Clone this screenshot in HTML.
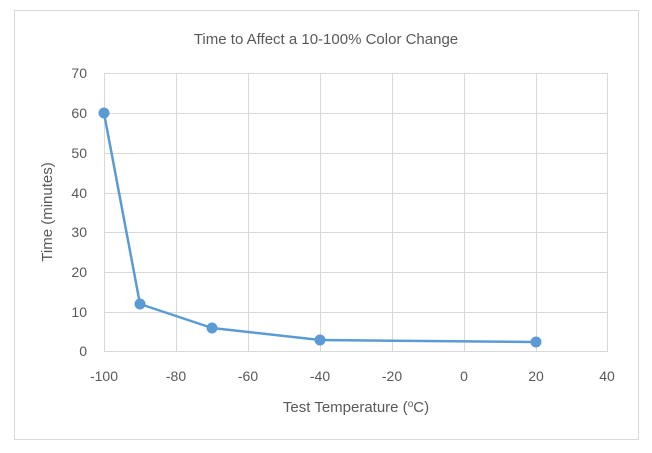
<!DOCTYPE html>
<html><head><meta charset="utf-8"><style>
body{margin:0;background:#fff;}
svg{display:block;font-family:"Liberation Sans",sans-serif;}
</style></head><body>
<svg width="652" height="453" viewBox="0 0 652 453">
<rect x="14.5" y="10.5" width="624" height="429" fill="#fff" stroke="#d9d9d9"/>
<text x="326" y="44" text-anchor="middle" font-size="15" fill="#595959">Time to Affect a 10-100% Color Change</text>
<g stroke="#d9d9d9" stroke-width="1">
<line x1="104" y1="73.5" x2="608" y2="73.5"/>
<line x1="104" y1="113.5" x2="608" y2="113.5"/>
<line x1="104" y1="153.5" x2="608" y2="153.5"/>
<line x1="104" y1="193.5" x2="608" y2="193.5"/>
<line x1="104" y1="232.5" x2="608" y2="232.5"/>
<line x1="104" y1="272.5" x2="608" y2="272.5"/>
<line x1="104" y1="312.5" x2="608" y2="312.5"/>
<line x1="104.5" y1="73" x2="104.5" y2="352"/>
<line x1="176.5" y1="73" x2="176.5" y2="352"/>
<line x1="248.5" y1="73" x2="248.5" y2="352"/>
<line x1="320.5" y1="73" x2="320.5" y2="352"/>
<line x1="392.5" y1="73" x2="392.5" y2="352"/>
<line x1="464.5" y1="73" x2="464.5" y2="352"/>
<line x1="536.5" y1="73" x2="536.5" y2="352"/>
<line x1="607.5" y1="73" x2="607.5" y2="352"/>
<line x1="104" y1="351.5" x2="608" y2="351.5"/>
</g>
<g font-size="14" fill="#595959" text-anchor="end">
<text x="87" y="78">70</text><text x="87" y="118">60</text><text x="87" y="158">50</text>
<text x="87" y="198">40</text><text x="87" y="237">30</text><text x="87" y="277">20</text>
<text x="87" y="317">10</text><text x="87" y="356">0</text>
</g>
<g font-size="14" fill="#595959" text-anchor="middle">
<text x="104" y="381">-100</text><text x="176" y="381">-80</text><text x="248" y="381">-60</text>
<text x="320" y="381">-40</text><text x="392" y="381">-20</text><text x="464" y="381">0</text>
<text x="536" y="381">20</text><text x="607" y="381">40</text>
</g>
<text x="356" y="412" text-anchor="middle" font-size="15" fill="#595959">Test Temperature (<tspan font-size="10" dy="-5">o</tspan><tspan dy="5">C)</tspan></text>
<text transform="translate(52,212) rotate(-90)" text-anchor="middle" font-size="15" fill="#595959">Time (minutes)</text>
<polyline points="104,113 140,304 212,328 320,340 536,342" fill="none" stroke="#5b9bd5" stroke-width="2.5" stroke-linejoin="round"/>
<g fill="#5b9bd5">
<circle cx="104" cy="113" r="5.5"/><circle cx="140" cy="304" r="5.5"/><circle cx="212" cy="328" r="5.5"/>
<circle cx="320" cy="340" r="5.5"/><circle cx="536" cy="342" r="5.5"/>
</g>
</svg>
</body></html>
